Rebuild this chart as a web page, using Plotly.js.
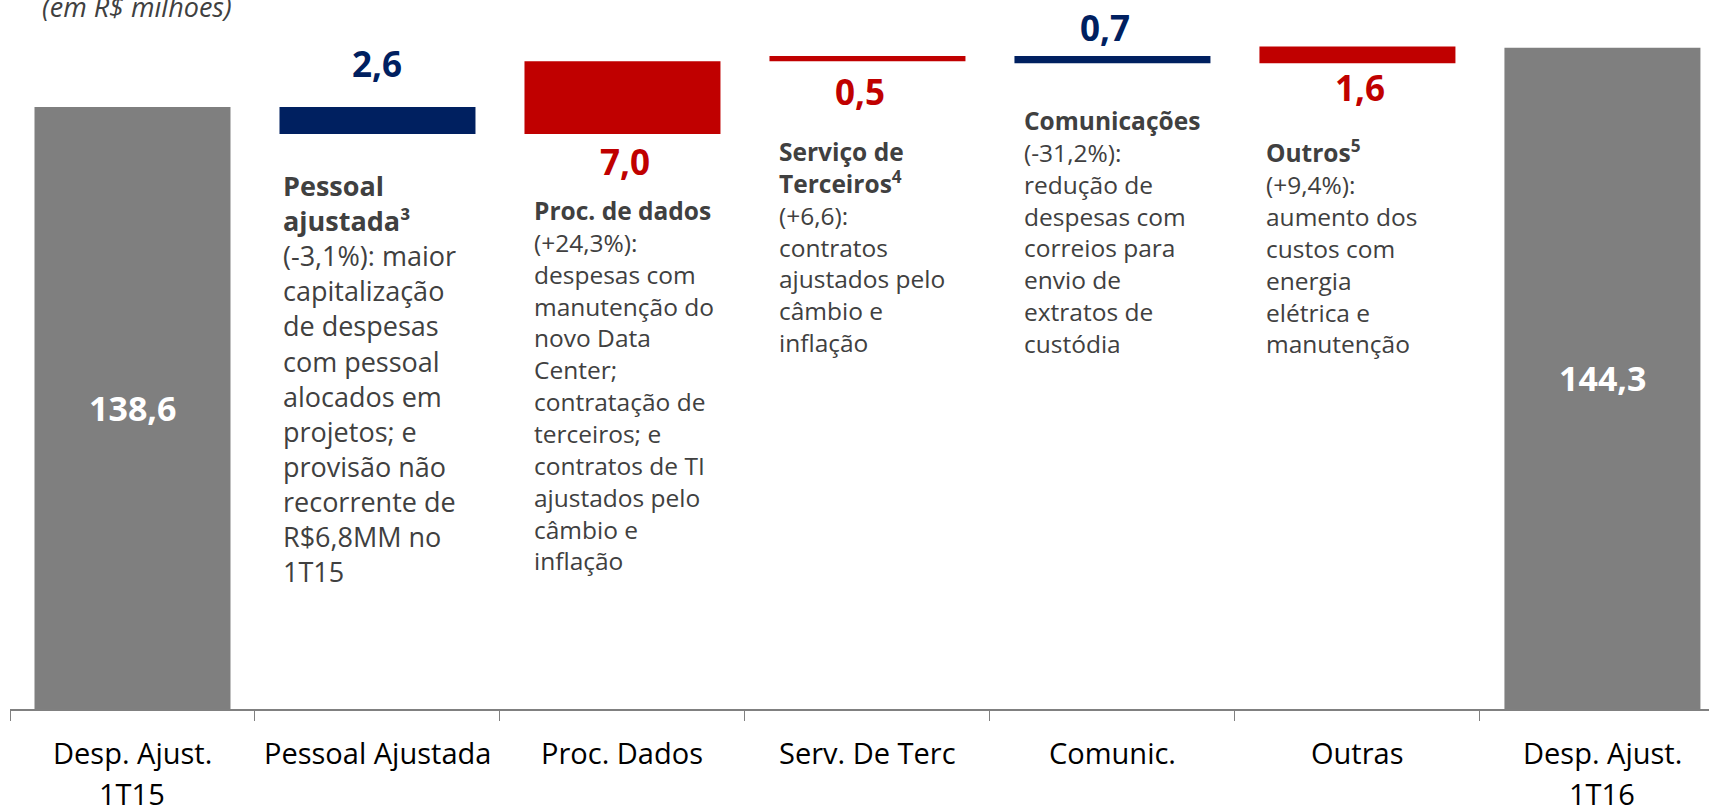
<!DOCTYPE html>
<html>
<head>
<meta charset="utf-8">
<script src="https://cdn.plot.ly/plotly-3.0.1.min.js"></script>
<style>
  html, body { margin: 0; padding: 0; background: #ffffff; }
  #chart { width: 1709px; height: 812px; }
</style>
</head>
<body>
<div id="chart"></div>
<script>
// ---------- data ----------
const categories = ["Desp. Ajust. 1T15", "Pessoal Ajustada", "Proc. Dados", "Serv. De Terc", "Comunic.", "Outras", "Desp. Ajust. 1T16"];
const categoryLines = [["Desp. Ajust.", "1T15"], ["Pessoal Ajustada"], ["Proc. Dados"], ["Serv. De Terc"], ["Comunic."], ["Outras"], ["Desp. Ajust.", "1T16"]];
const measures = ["absolute", "relative", "relative", "relative", "relative", "relative", "absolute"];
const values = [138.6, -2.6, 7.0, 0.5, -0.7, 1.6, 144.3];
const unitNote = "(em R$ milhões)";
const notes = [
  null,
  ["<b>Pessoal</b>", "<b>ajustada³</b>", "(-3,1%): maior", "capitalização", "de despesas", "com pessoal", "alocados em", "projetos; e", "provisão não", "recorrente de", "R$6,8MM no", "1T15"],
  ["<b>Proc. de dados</b>", "(+24,3%):", "despesas com", "manutenção do", "novo Data", "Center;", "contratação de", "terceiros; e", "contratos de TI", "ajustados pelo", "câmbio e", "inflação"],
  ["<b>Serviço de</b>", "<b>Terceiros<sup>4</sup></b>", "(+6,6):", "contratos", "ajustados pelo", "câmbio e", "inflação"],
  ["<b>Comunicações</b>", "(-31,2%):", "redução de", "despesas com", "correios para", "envio de", "extratos de", "custódia"],
  ["<b>Outros<sup>5</sup></b>", "(+9,4%):", "aumento dos", "custos com", "energia", "elétrica e", "manutenção"],
  null
];

// ---------- styles / positions ----------
const RED = "#C00000", NAVY = "#002060", GREY = "#7F7F7F", TXT = "#404040";
const FONT = "Open Sans, Noto Sans, sans-serif";
const yRange = [80.71, 148.88];
const xRange = [-0.5, 6.435];
const valueLabelShift = [0, 43.5, -27.7, -30.3, 28.5, -23.8, 0];   // px offset from bar edge
const valueLabelXShift = [0, 0, 3, -7, -7, 3, 0];
const noteCenterPaper = [0, 0.4663, 0.4557, 0.6521, 0.6732, 0.6521, 0];
const noteSize = [0, 27, 24.5, 24.5, 24.5, 24.5, 0];
const noteXShift = [0, 2, 8, 8, 8, 5, 0];
const labelLineY = [-0.0614, -0.119];

function fmt(v) { return Math.abs(v).toFixed(1).replace(".", ","); }

const annotations = [];

// running totals
let prev = 0;
values.forEach((v, i) => {
  if (measures[i] === "absolute") {
    annotations.push({
      xref: "x", yref: "y", x: categories[i], y: (yRange[0] + v) / 2,
      text: "<b>" + fmt(v) + "</b>", showarrow: false,
      xanchor: "center", yanchor: "middle",
      font: { family: FONT, size: 34, color: "#FFFFFF" }
    });
    prev = v;
  } else {
    annotations.push({
      xref: "x", yref: "y", x: categories[i], y: prev,
      yshift: valueLabelShift[i], xshift: valueLabelXShift[i],
      text: "<b>" + fmt(v) + "</b>", showarrow: false,
      xanchor: "center", yanchor: "middle",
      font: { family: FONT, size: 35, color: v < 0 ? NAVY : RED }
    });
    prev = prev + v;
  }
  if (notes[i]) {
    annotations.push({
      xref: "x", yref: "paper", x: i - 0.4, y: noteCenterPaper[i],
      xshift: noteXShift[i],
      text: notes[i].join("<br>"), showarrow: false, align: "left",
      xanchor: "left", yanchor: "middle",
      font: { family: FONT, size: noteSize[i], color: TXT }
    });
  }
  categoryLines[i].forEach((line, k) => {
    annotations.push({
      xref: "x", yref: "paper", x: categories[i], y: labelLineY[k],
      text: line, showarrow: false, xanchor: "center", yanchor: "middle",
      borderpad: 0,
      font: { family: FONT, size: 29, color: "#000000" }
    });
  });
});

annotations.push({
  xref: "paper", yref: "paper", x: 0.0747, y: 0.9907,
  text: "<i>" + unitNote + "</i>", showarrow: false,
  xanchor: "center", yanchor: "middle",
  font: { family: FONT, size: 27, color: TXT }
});

const trace = {
  type: "waterfall",
  x: categories,
  y: values,
  measure: measures,
  textinfo: "none",
  hoverinfo: "skip",
  connector: { visible: false },
  increasing: { marker: { color: RED, line: { width: 0 } } },
  decreasing: { marker: { color: NAVY, line: { width: 0 } } },
  totals: { marker: { color: GREY, line: { width: 0 } } }
};

const layout = {
  width: 1709, height: 812,
  margin: { l: 10, r: 0, t: 0, b: 103, pad: 0 },
  paper_bgcolor: "#FFFFFF", plot_bgcolor: "#FFFFFF",
  showlegend: false,
  waterfallgap: 0.2,
  xaxis: {
    type: "category", range: xRange, fixedrange: true,
    showline: true, linecolor: "#808080", linewidth: 1.5,
    ticks: "outside", tickson: "boundaries", ticklen: 10, tickwidth: 1, tickcolor: "#808080",
    showticklabels: false, showgrid: false, zeroline: false
  },
  yaxis: {
    range: yRange, visible: false, showgrid: false, zeroline: false, fixedrange: true
  },
  annotations: annotations
};

Plotly.newPlot("chart", [trace], layout, { staticPlot: true, displayModeBar: false });
</script>
</body>
</html>
